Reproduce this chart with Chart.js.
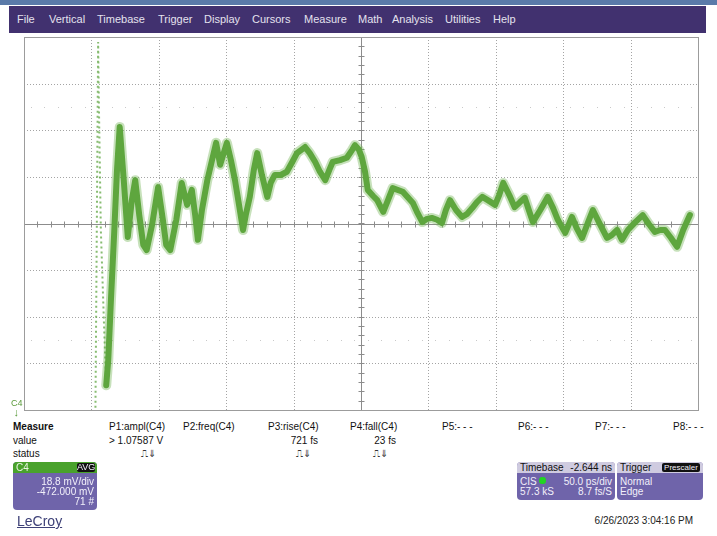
<!DOCTYPE html>
<html lang="en">
<head>
    <meta charset="UTF-8">
    <title>LeCroy C4 capture</title>
    <script src="https://cdn.jsdelivr.net/npm/chart.js"></script>
    <style>
        body {
            margin: 0;
            width: 717px;
            height: 536px;
            position: relative;
            overflow: hidden;
            background: #fff;
            font-family: "Liberation Sans", Arial, sans-serif;
        }
        #topStrip { position: absolute; left: 0; top: 0; width: 717px; height: 5px; background: #5a7aa9; }
        #menu { position: absolute; left: 9px; top: 6px; width: 697px; height: 27px; background: #41316f; }
        #menu span { position: absolute; top: 7px; font-size: 11px; color: #e4e2ee; }
        #scope { position: absolute; left: 14px; top: 32px; }
        .t { position: absolute; font-size: 10px; line-height: 12px; color: #111; white-space: nowrap; }
        .r { text-align: right; }
        .stat { font-family: "DejaVu Sans", sans-serif; font-size: 10px; color: #333; }
        .box { position: absolute; border-radius: 4px; background: #6f64aa; overflow: hidden; }
        .box .t { color: #f2f0fa; line-height: 10px; }
        #c4marker { position: absolute; left: 11px; top: 399px; font-size: 9px; line-height: 9px; color: #5a9a3a; }
        #logo { position: absolute; left: 17px; top: 513px; font-size: 14px; color: #3d4077; text-decoration: underline; }
        #stamp { position: absolute; right: 24px; top: 515px; font-size: 10px; color: #222; }
    </style>
</head>
<body>
    <div id="topStrip"></div>
    <div id="menu">
        <span style="left:8px">File</span>
        <span style="left:40px">Vertical</span>
        <span style="left:88px">Timebase</span>
        <span style="left:149px">Trigger</span>
        <span style="left:195px">Display</span>
        <span style="left:243px">Cursors</span>
        <span style="left:295px">Measure</span>
        <span style="left:349px">Math</span>
        <span style="left:383px">Analysis</span>
        <span style="left:436px">Utilities</span>
        <span style="left:484px">Help</span>
    </div>

    <canvas id="scope" width="694" height="386"></canvas>

    <div id="c4marker">C4<br>&nbsp;<span style="font-size:11px">↓</span></div>

    <!-- tableau des mesures -->
    <div class="t" style="left:13px;top:421px;font-weight:bold">Measure</div>
    <div class="t" style="left:109px;top:421px">P1:ampl(C4)</div>
    <div class="t" style="left:183px;top:421px">P2:freq(C4)</div>
    <div class="t" style="left:268px;top:421px">P3:rise(C4)</div>
    <div class="t" style="left:350px;top:421px">P4:fall(C4)</div>
    <div class="t" style="left:442px;top:421px">P5:- - -</div>
    <div class="t" style="left:518px;top:421px">P6:- - -</div>
    <div class="t" style="left:595px;top:421px">P7:- - -</div>
    <div class="t" style="left:673px;top:421px">P8:- - -</div>

    <div class="t" style="left:13px;top:435px">value</div>
    <div class="t" style="left:109px;top:435px">&gt; 1.07587 V</div>
    <div class="t r" style="left:260px;width:58px;top:435px">721 fs</div>
    <div class="t r" style="left:340px;width:56px;top:435px">23 fs</div>

    <div class="t" style="left:13px;top:448px">status</div>
    <div class="t stat" style="left:141px;top:448px">⎍⇓</div>
    <div class="t stat" style="left:296px;top:448px">⎍⇓</div>
    <div class="t stat" style="left:373px;top:448px">⎍⇓</div>

    <!-- descripteur de voie -->
    <div class="box" style="left:13px;top:462px;width:84px;height:48px">
        <div style="position:absolute;left:0;top:0;width:84px;height:11px;background:#49a22c"></div>
        <div class="t" style="left:3px;top:1px;color:#eaf5e4">C4</div>
        <div class="t" style="left:64px;top:1px;width:18px;height:9px;background:#111;border-radius:2px;font-size:9px;line-height:9px;text-align:center">AVG</div>
        <div class="t r" style="right:3px;top:15px">18.8 mV/div</div>
        <div class="t r" style="right:3px;top:25px">-472.000 mV</div>
        <div class="t r" style="right:3px;top:35px">71 #</div>
    </div>

    <div class="box" style="left:517px;top:462px;width:98px;height:38px">
        <div style="position:absolute;left:0;top:0;width:98px;height:11px;background:#cfcbe0"></div>
        <div class="t" style="left:3px;top:1px;color:#111">Timebase</div>
        <div class="t r" style="right:3px;top:1px;color:#111">-2.644 ns</div>
        <div class="t" style="left:3px;top:15px">CIS</div>
        <div style="position:absolute;left:22px;top:15px;width:7px;height:7px;border-radius:3px;background:#22d422"></div>
        <div class="t r" style="right:3px;top:15px">50.0 ps/div</div>
        <div class="t" style="left:3px;top:25px">57.3 kS</div>
        <div class="t r" style="right:3px;top:25px">8.7 fs/S</div>
    </div>

    <div class="box" style="left:617px;top:462px;width:86px;height:38px">
        <div style="position:absolute;left:0;top:0;width:86px;height:11px;background:#cfcbe0"></div>
        <div class="t" style="left:3px;top:1px;color:#111">Trigger</div>
        <div class="t" style="left:45px;top:1px;width:38px;height:9px;background:#111;border-radius:2px;font-size:8px;line-height:9px;text-align:center">Prescaler</div>
        <div class="t" style="left:3px;top:15px">Normal</div>
        <div class="t" style="left:3px;top:25px">Edge</div>
    </div>

    <div id="logo">LeCroy</div>
    <div id="stamp">6/26/2023 3:04:16 PM</div>

    <script>
        // graticule: 10 div horizontally (50 ps/div), 8 div vertically (18.8 mV/div)
        const xDivs = [0, 1, 2, 3, 4, 5, 6, 7, 8, 9, 10];
        const yDivs = [-4, -3, -2, -1, 0, 1, 2, 3, 4];

        // C4 averaged trace in divisions
        const traceTime = [
            1.22, 1.25, 1.29, 1.34, 1.38, 1.42, 1.48, 1.54, 1.60, 1.65,
            1.71, 1.77, 1.82, 1.90, 1.99, 2.06, 2.11, 2.17, 2.26, 2.34,
            2.42, 2.49, 2.54, 2.58, 2.64, 2.72, 2.79, 2.85, 2.91, 3.01,
            3.07, 3.13, 3.19, 3.25, 3.29, 3.35, 3.41, 3.46, 3.53, 3.61,
            3.66, 3.72, 3.81, 3.90, 3.98, 4.05, 4.17, 4.24, 4.32, 4.39,
            4.47, 4.53, 4.58, 4.69, 4.79, 4.87, 4.91, 4.97, 5.01, 5.06,
            5.10, 5.18, 5.24, 5.33, 5.40, 5.47, 5.62, 5.77, 5.83, 5.91,
            5.98, 6.05, 6.13, 6.20, 6.26, 6.32, 6.41, 6.50, 6.57, 6.65,
            6.72, 6.80, 6.88, 6.99, 7.05, 7.11, 7.20, 7.28, 7.36, 7.43,
            7.49, 7.55, 7.66, 7.77, 7.85, 7.92, 8.03, 8.13, 8.20, 8.28,
            8.37, 8.44, 8.55, 8.65, 8.72, 8.80, 8.87, 8.96, 9.07, 9.18,
            9.27, 9.36, 9.44, 9.51, 9.60, 9.69, 9.78, 9.88
        ];
        const traceVolt = [
            -3.47, -2.93, -1.64, -0.14, 1.15, 2.07, 0.93, -0.29, 0.50, 0.93,
            0.18, -0.46, -0.57, -0.03, 0.78, 0.08, -0.46, -0.57, 0.08, 0.87,
            0.40, 0.72, 0.18, -0.35, 0.29, 0.93, 1.36, 1.73, 1.26, 1.73,
            1.36, 0.93, 0.40, -0.14, 0.18, 0.57, 1.15, 1.51, 1.04, 0.57,
            0.87, 1.04, 1.04, 1.11, 1.32, 1.51, 1.64, 1.51, 1.32, 1.11,
            0.93, 1.15, 1.32, 1.36, 1.41, 1.58, 1.68, 1.58, 1.43, 1.11,
            0.72, 0.59, 0.50, 0.25, 0.50, 0.76, 0.68, 0.44, 0.25, 0.03,
            0.10, 0.12, 0.08, 0.01, 0.29, 0.50, 0.29, 0.14, 0.20, 0.33,
            0.46, 0.57, 0.50, 0.40, 0.61, 0.87, 0.61, 0.35, 0.46, 0.55,
            0.29, 0.03, 0.29, 0.57, 0.33, 0.08, -0.20, 0.14, -0.10, -0.31,
            0.03, 0.29, -0.03, -0.31, -0.25, -0.14, -0.35, -0.14, 0.03, 0.18,
            -0.01, -0.18, -0.14, -0.14, -0.31, -0.50, -0.14, 0.18
        ];

        // fast edge at the start, only a few samples land on it
        const spikeTime = [1.06, 1.08, 1.10, 1.11, 1.14, 1.19, 1.22];
        const spikeVolt = [-3.95, -0.14, 3.89, 2.65, -0.14, -2.29, -3.47];

        const toPoints = (xs, ys) => xs.map((v, i) => ({ x: v, y: ys[i] }));

        // graticule drawn under the trace, from the chart's own scales
        const graticule = {
            id: 'graticule',
            beforeDatasetsDraw(chart) {
                const { ctx, chartArea: a, scales: { x, y } } = chart;
                const px = v => Math.round(x.getPixelForValue(v)) + 0.5;
                const py = v => Math.round(y.getPixelForValue(v)) + 0.5;
                const seg = (x1, y1, x2, y2) => { ctx.beginPath(); ctx.moveTo(x1, y1); ctx.lineTo(x2, y2); ctx.stroke(); };
                ctx.save();
                ctx.lineWidth = 1;

                // dotted division lines
                ctx.strokeStyle = '#a4a4a4';
                ctx.setLineDash([1, 2]);
                xDivs.slice(1, -1).forEach(v => { if (v !== 5) seg(px(v), a.top, px(v), a.bottom); });
                yDivs.slice(1, -1).forEach(v => { if (v !== 0) seg(a.left, py(v), a.right, py(v)); });

                // faint marks at +/- 2.5 div
                ctx.fillStyle = '#c9c9c9';
                [2.5, -2.5].forEach(v => {
                    for (let k = 0.1; k < 10; k += 0.2) ctx.fillRect(px(k) - 0.5, py(v) - 0.5, 1, 1);
                });

                // centre axes with 0.2 div ticks
                ctx.setLineDash([]);
                ctx.strokeStyle = '#8c8c8c';
                seg(a.left, py(0), a.right, py(0));
                seg(px(5), a.top, px(5), a.bottom);
                for (let k = 0.2; k < 10; k += 0.2) seg(px(k), py(0) - 3, px(k), py(0) + 3);
                for (let k = -3.8; k < 4; k += 0.2) seg(px(5) - 3, py(k), px(5) + 3, py(k));

                // frame
                ctx.strokeStyle = '#9c9c9c';
                ctx.strokeRect(px(0), py(4), px(10) - px(0), py(-4) - py(4));
                ctx.restore();
            }
        };

        new Chart(document.getElementById('scope').getContext('2d'), {
            type: 'line',
            data: {
                datasets: [
                    {
                        label: 'C4 edge',
                        data: toPoints(spikeTime, spikeVolt),
                        borderColor: 'rgba(95, 165, 65, 0.75)',
                        borderWidth: 2,
                        borderDash: [2, 3],
                        pointRadius: 0,
                        tension: 0
                    },
                    {
                        label: 'C4 halo',
                        data: toPoints(traceTime, traceVolt),
                        borderColor: 'rgba(115, 180, 85, 0.4)',
                        borderWidth: 10,
                        borderJoinStyle: 'round',
                        borderCapStyle: 'round',
                        pointRadius: 0,
                        tension: 0
                    },
                    {
                        label: 'C4',
                        data: toPoints(traceTime, traceVolt),
                        borderColor: '#509d2f',
                        borderWidth: 6,
                        borderJoinStyle: 'round',
                        borderCapStyle: 'round',
                        pointRadius: 0,
                        tension: 0
                    }
                ]
            },
            options: {
                responsive: false,
                animation: false,
                layout: { padding: { left: 10, top: 5, right: 10, bottom: 8 } },
                plugins: { legend: { display: false }, tooltip: { enabled: false } },
                scales: {
                    x: { type: 'linear', min: 0, max: 10, display: false },
                    y: { type: 'linear', min: -4, max: 4, display: false }
                }
            },
            plugins: [graticule]
        });
    </script>
</body>
</html>
